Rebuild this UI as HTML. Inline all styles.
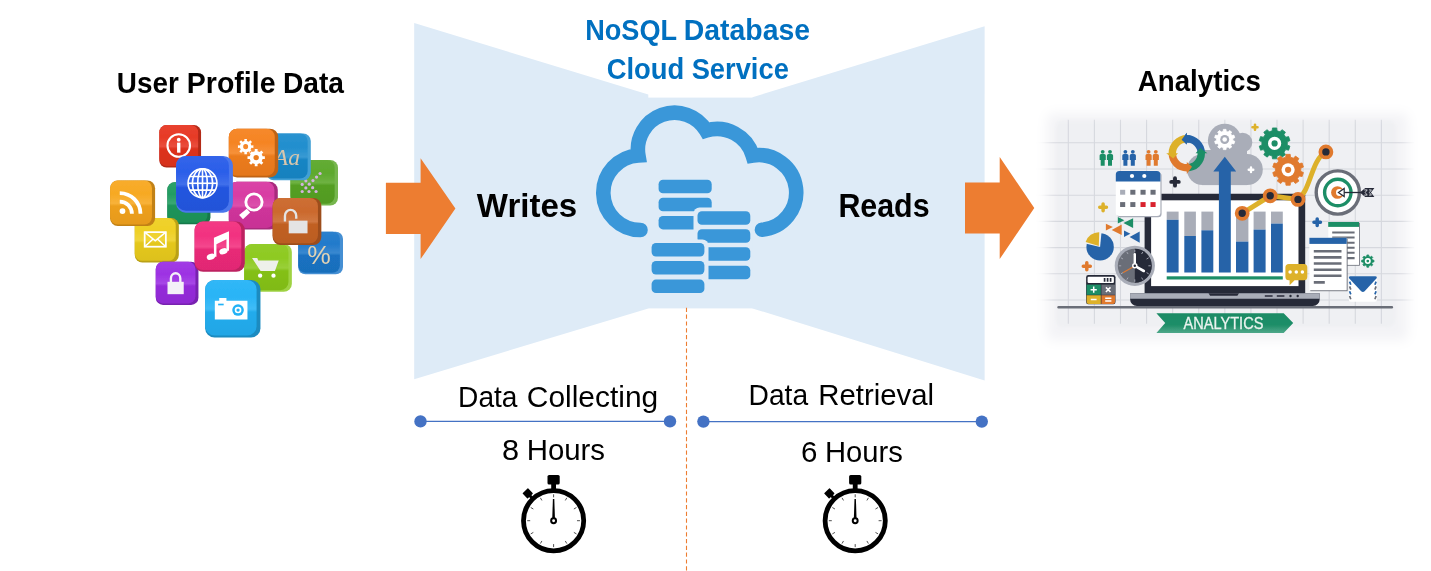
<!DOCTYPE html>
<html lang="en">
<head>
<meta charset="utf-8">
<title>NoSQL Database Cloud Service</title>
<style>
html,body{margin:0;padding:0;background:#fff;}
body{width:1431px;height:571px;overflow:hidden;}
svg{display:block;}
text{font-family:"Liberation Sans",sans-serif;}
</style>
</head>
<body>
<svg width="1431" height="571" viewBox="0 0 1431 571">
<defs><filter id="soft" filterUnits="userSpaceOnUse" x="0" y="0" width="1431" height="571"><feGaussianBlur stdDeviation="0.55"/></filter></defs>
<rect width="1431" height="571" fill="#fff"/>
<!-- base -->
<g id="base">
<g fill="#DEEBF7">
<polygon points="414.2,23 648.3,94.6 648.3,308.4 414.2,379.2"/>
<rect x="648" y="97.6" width="105" height="210.8"/>
<polygon points="984.6,26.2 752.5,97.2 752.5,308.4 984.6,380.4"/>
</g>
<line x1="686.5" y1="307.8" x2="686.5" y2="571" stroke="#ED7D31" stroke-width="1.1" stroke-dasharray="4.2,2.6"/>
<polygon fill="#ED7D31" points="385.9,182.8 420.6,182.8 420.6,158.2 455.4,208.4 420.6,259.1 420.6,233.9 385.9,233.9"/>
<polygon fill="#ED7D31" points="965,182.4 999.7,182.4 999.7,157.1 1034.3,208 999.7,259.1 999.7,233.4 965,233.4"/>
<g stroke="#4472C4" stroke-width="1.4"><line x1="420.5" y1="421.4" x2="670" y2="421.4"/><line x1="703.4" y1="421.6" x2="981.8" y2="421.6"/></g>
<g fill="#4472C4"><circle cx="420.5" cy="421.4" r="6.2"/><circle cx="670" cy="421.4" r="6.2"/><circle cx="703.4" cy="421.6" r="6.2"/><circle cx="981.8" cy="421.6" r="6.2"/></g>
<g font-family="'Liberation Sans', sans-serif" opacity="0.999">
<text y="92.9" font-size="29.0" font-weight="bold" fill="#000" xml:space="preserve"><tspan x="116.84" textLength="61.90" lengthAdjust="spacingAndGlyphs">User</tspan> <tspan x="186.84" textLength="88.70" lengthAdjust="spacingAndGlyphs">Profile</tspan> <tspan x="282.90" textLength="61.10" lengthAdjust="spacingAndGlyphs">Data</tspan></text>
<text y="40.2" font-size="28.8" font-weight="bold" fill="#0070C0" xml:space="preserve"><tspan x="585.22" textLength="91.40" lengthAdjust="spacingAndGlyphs">NoSQL</tspan> <tspan x="683.84" textLength="126.20" lengthAdjust="spacingAndGlyphs">Database</tspan></text>
<text y="79.1" font-size="28.8" font-weight="bold" fill="#0070C0" xml:space="preserve"><tspan x="606.64" textLength="77.58" lengthAdjust="spacingAndGlyphs">Cloud</tspan> <tspan x="691.64" textLength="97.22" lengthAdjust="spacingAndGlyphs">Service</tspan></text>
<text y="216.7" font-size="33.0" font-weight="bold" fill="#000" xml:space="preserve"><tspan x="476.82" textLength="100.34" lengthAdjust="spacingAndGlyphs">Writes</tspan></text>
<text y="216.7" font-size="33.0" font-weight="bold" fill="#000" xml:space="preserve"><tspan x="838.40" textLength="91.20" lengthAdjust="spacingAndGlyphs">Reads</tspan></text>
<text y="91.0" font-size="28.8" font-weight="bold" fill="#000" xml:space="preserve"><tspan x="1137.76" textLength="123.16" lengthAdjust="spacingAndGlyphs">Analytics</tspan></text>
<text y="406.5" font-size="29.2" font-weight="normal" fill="#000" xml:space="preserve"><tspan x="458.10" textLength="59.34" lengthAdjust="spacingAndGlyphs">Data</tspan> <tspan x="526.78" textLength="131.44" lengthAdjust="spacingAndGlyphs">Collecting</tspan></text>
<text y="404.6" font-size="29.2" font-weight="normal" fill="#000" xml:space="preserve"><tspan x="748.54" textLength="59.52" lengthAdjust="spacingAndGlyphs">Data</tspan> <tspan x="818.28" textLength="115.82" lengthAdjust="spacingAndGlyphs">Retrieval</tspan></text>
<text y="459.8" font-size="29.2" font-weight="normal" fill="#000" xml:space="preserve"><tspan x="502.08" textLength="17.08" lengthAdjust="spacingAndGlyphs">8</tspan> <tspan x="526.66" textLength="78.38" lengthAdjust="spacingAndGlyphs">Hours</tspan></text>
<text y="461.8" font-size="29.2" font-weight="normal" fill="#000" xml:space="preserve"><tspan x="801.02" textLength="16.40" lengthAdjust="spacingAndGlyphs">6</tspan> <tspan x="824.98" textLength="77.88" lengthAdjust="spacingAndGlyphs">Hours</tspan></text>
</g>
</g>
<!-- cloud -->
<g id="cloud">
<path d="M640.500,230.000 A37.300,37.300 0 0 1 638.405,155.465 A36.700,36.700 0 0 1 706.130,130.619 A37.300,37.300 0 0 1 752.731,155.596 A37.400,37.400 0 1 1 762.000,229.763" fill="none" stroke="#3A97D9" stroke-width="14.6" stroke-linecap="round" stroke-linejoin="miter" stroke-miterlimit="1.6"/>
<g fill="#3A97D9"><rect x="658.6" y="179.8" width="53.1" height="13.5" rx="4.4" ry="4.4"/><rect x="658.6" y="197.8" width="53.1" height="13.5" rx="4.4" ry="4.4"/><rect x="658.6" y="215.9" width="53.1" height="13.5" rx="4.4" ry="4.4"/></g>
<rect fill="#DEEBF7" x="693.5" y="207.6" width="59.3" height="74.4" rx="6"/>
<g fill="#3A97D9"><rect x="697.5" y="211.3" width="52.8" height="13.5" rx="4.4" ry="4.4"/><rect x="697.5" y="229.3" width="52.8" height="13.5" rx="4.4" ry="4.4"/><rect x="697.5" y="247.2" width="52.8" height="13.5" rx="4.4" ry="4.4"/><rect x="697.5" y="265.8" width="52.8" height="13.5" rx="4.4" ry="4.4"/></g>
<rect fill="#DEEBF7" x="648.2" y="239.4" width="60.3" height="57.2" rx="6"/>
<g fill="#3A97D9"><rect x="651.6" y="243.0" width="52.8" height="13.5" rx="4.4" ry="4.4"/><rect x="651.6" y="261.0" width="52.8" height="13.5" rx="4.4" ry="4.4"/><rect x="651.6" y="279.6" width="52.8" height="13.5" rx="4.4" ry="4.4"/></g>
</g>
<!-- watch -->
<g id="watch">
<g transform="translate(553.6,520.7)">
<g transform="rotate(-43.5)"><rect x="-1.5" y="-35" width="3" height="5" fill="#000"/><rect x="-3.8" y="-41.3" width="7.6" height="7.4" rx="0.6" fill="#000"/></g>
<rect x="-6.1" y="-45.8" width="12.2" height="9.6" rx="1.6" fill="#000"/>
<rect x="-2.4" y="-37" width="4.8" height="6" fill="#000"/>
<circle r="30.1" fill="#fff" stroke="#000" stroke-width="4.8"/>
<path d="M0.00,-23.40L0.00,-26.40M11.70,-20.26L13.20,-22.86M20.26,-11.70L22.86,-13.20M23.40,-0.00L26.40,-0.00M20.26,11.70L22.86,13.20M11.70,20.26L13.20,22.86M0.00,23.40L0.00,26.40M-11.70,20.26L-13.20,22.86M-20.26,11.70L-22.86,13.20M-23.40,0.00L-26.40,0.00M-20.26,-11.70L-22.86,-13.20M-11.70,-20.26L-13.20,-22.86" stroke="#333" stroke-width="0.85" fill="none"/>
<polygon points="-0.7,-21.8 0.7,-21.8 1.35,-2 -1.35,-2" fill="#000"/>
<circle r="2.45" fill="#fff" stroke="#000" stroke-width="2.0"/>
</g>
<g transform="translate(855.2,520.7)">
<g transform="rotate(-43.5)"><rect x="-1.5" y="-35" width="3" height="5" fill="#000"/><rect x="-3.8" y="-41.3" width="7.6" height="7.4" rx="0.6" fill="#000"/></g>
<rect x="-6.1" y="-45.8" width="12.2" height="9.6" rx="1.6" fill="#000"/>
<rect x="-2.4" y="-37" width="4.8" height="6" fill="#000"/>
<circle r="30.1" fill="#fff" stroke="#000" stroke-width="4.8"/>
<path d="M0.00,-23.40L0.00,-26.40M11.70,-20.26L13.20,-22.86M20.26,-11.70L22.86,-13.20M23.40,-0.00L26.40,-0.00M20.26,11.70L22.86,13.20M11.70,20.26L13.20,22.86M0.00,23.40L0.00,26.40M-11.70,20.26L-13.20,22.86M-20.26,11.70L-22.86,13.20M-23.40,0.00L-26.40,0.00M-20.26,-11.70L-22.86,-13.20M-11.70,-20.26L-13.20,-22.86" stroke="#333" stroke-width="0.85" fill="none"/>
<polygon points="-0.7,-21.8 0.7,-21.8 1.35,-2 -1.35,-2" fill="#000"/>
<circle r="2.45" fill="#fff" stroke="#000" stroke-width="2.0"/>
</g>
</g>
<!-- tiles -->
<g id="tiles" filter="url(#soft)">
<defs><linearGradient id="tg0" x1="0" y1="0" x2="0" y2="1"><stop offset="0" stop-color="#2CA169"/><stop offset="0.30" stop-color="#239D63"/><stop offset="0.52" stop-color="#3AA773"/><stop offset="0.58" stop-color="#1B945A"/><stop offset="1" stop-color="#1A8F57"/></linearGradient><linearGradient id="tg1" x1="0" y1="0" x2="0" y2="1"><stop offset="0" stop-color="#E8422F"/><stop offset="0.30" stop-color="#E73A26"/><stop offset="0.52" stop-color="#E94E3C"/><stop offset="0.58" stop-color="#DD321E"/><stop offset="1" stop-color="#D6301D"/></linearGradient><linearGradient id="tg2" x1="0" y1="0" x2="0" y2="1"><stop offset="0" stop-color="#64AC35"/><stop offset="0.30" stop-color="#5DA92D"/><stop offset="0.52" stop-color="#6EB242"/><stop offset="0.58" stop-color="#549F24"/><stop offset="1" stop-color="#529A23"/></linearGradient><linearGradient id="tg3" x1="0" y1="0" x2="0" y2="1"><stop offset="0" stop-color="#2A93D0"/><stop offset="0.30" stop-color="#218ECE"/><stop offset="0.52" stop-color="#389AD3"/><stop offset="0.58" stop-color="#1985C4"/><stop offset="1" stop-color="#1881BE"/></linearGradient><linearGradient id="tg4" x1="0" y1="0" x2="0" y2="1"><stop offset="0" stop-color="#F6892C"/><stop offset="0.30" stop-color="#F58423"/><stop offset="0.52" stop-color="#F6913A"/><stop offset="0.58" stop-color="#EB7B1B"/><stop offset="1" stop-color="#E4771A"/></linearGradient><linearGradient id="tg5" x1="0" y1="0" x2="0" y2="1"><stop offset="0" stop-color="#EFD22E"/><stop offset="0.30" stop-color="#EFD025"/><stop offset="0.52" stop-color="#F0D53B"/><stop offset="0.58" stop-color="#E4C71D"/><stop offset="1" stop-color="#DDC11C"/></linearGradient><linearGradient id="tg6" x1="0" y1="0" x2="0" y2="1"><stop offset="0" stop-color="#F8AC2C"/><stop offset="0.30" stop-color="#F7A923"/><stop offset="0.52" stop-color="#F8B23A"/><stop offset="0.58" stop-color="#ED9F1B"/><stop offset="1" stop-color="#E69A1A"/></linearGradient><linearGradient id="tg7" x1="0" y1="0" x2="0" y2="1"><stop offset="0" stop-color="#DA44A7"/><stop offset="0.30" stop-color="#D83CA3"/><stop offset="0.52" stop-color="#DC50AC"/><stop offset="0.58" stop-color="#CE349A"/><stop offset="1" stop-color="#C83295"/></linearGradient><linearGradient id="tg8" x1="0" y1="0" x2="0" y2="1"><stop offset="0" stop-color="#2B80CD"/><stop offset="0.30" stop-color="#227ACB"/><stop offset="0.52" stop-color="#3988D0"/><stop offset="0.58" stop-color="#1A71C1"/><stop offset="1" stop-color="#196EBB"/></linearGradient><linearGradient id="tg9" x1="0" y1="0" x2="0" y2="1"><stop offset="0" stop-color="#92CC2A"/><stop offset="0.30" stop-color="#8ECA21"/><stop offset="0.52" stop-color="#99CF38"/><stop offset="0.58" stop-color="#84C019"/><stop offset="1" stop-color="#80BA18"/></linearGradient><linearGradient id="tg10" x1="0" y1="0" x2="0" y2="1"><stop offset="0" stop-color="#CD6F35"/><stop offset="0.30" stop-color="#CB692D"/><stop offset="0.52" stop-color="#D07842"/><stop offset="0.58" stop-color="#C16024"/><stop offset="1" stop-color="#BB5D23"/></linearGradient><linearGradient id="tg11" x1="0" y1="0" x2="0" y2="1"><stop offset="0" stop-color="#3365EA"/><stop offset="0.30" stop-color="#2B5EE9"/><stop offset="0.52" stop-color="#406FEB"/><stop offset="0.58" stop-color="#2355DF"/><stop offset="1" stop-color="#2153D8"/></linearGradient><linearGradient id="tg12" x1="0" y1="0" x2="0" y2="1"><stop offset="0" stop-color="#A13BE4"/><stop offset="0.30" stop-color="#9D32E3"/><stop offset="0.52" stop-color="#A747E6"/><stop offset="0.58" stop-color="#942AD9"/><stop offset="1" stop-color="#8F29D2"/></linearGradient><linearGradient id="tg13" x1="0" y1="0" x2="0" y2="1"><stop offset="0" stop-color="#F33A85"/><stop offset="0.30" stop-color="#F23180"/><stop offset="0.52" stop-color="#F4478D"/><stop offset="0.58" stop-color="#E82977"/><stop offset="1" stop-color="#E12873"/></linearGradient><linearGradient id="tg14" x1="0" y1="0" x2="0" y2="1"><stop offset="0" stop-color="#31B7F7"/><stop offset="0.30" stop-color="#29B4F6"/><stop offset="0.52" stop-color="#3FBCF7"/><stop offset="0.58" stop-color="#21ABEC"/><stop offset="1" stop-color="#20A6E5"/></linearGradient></defs>
<g transform="translate(188.9,203.3)"><rect x="-21.55" y="-21.00" width="43.10" height="42.00" rx="7.14" fill="#167849"/><rect x="-21.55" y="-21.00" width="40.08" height="40.49" rx="7.14" fill="url(#tg0)"/></g>
<g transform="translate(180.2,146.3)"><rect x="-20.85" y="-21.25" width="41.70" height="42.50" rx="7.09" fill="#B32918"/><rect x="-20.85" y="-21.25" width="38.78" height="41.04" rx="7.09" fill="url(#tg1)"/><g transform="translate(-1.46,-0.73)"><circle r="11.26" fill="none" stroke="#FFFFFF" stroke-width="2.08"/><circle cy="-5.84" r="1.88" fill="#FFFFFF"/><rect x="-1.67" y="-2.92" width="3.34" height="10.01" fill="#FFFFFF"/></g></g>
<g transform="translate(314.2,182.7)"><rect x="-23.80" y="-22.70" width="47.60" height="45.40" rx="7.72" fill="#76B64D"/><rect x="-23.80" y="-22.70" width="44.27" height="43.73" rx="7.72" fill="url(#tg2)"/><g transform="translate(-1.67,-0.83)"><circle cx="7.54" cy="-8.35" r="1.59" fill="#D3B4DC"/><circle cx="4.00" cy="-4.81" r="1.59" fill="#D3B4DC"/><circle cx="0.41" cy="-1.27" r="1.59" fill="#D3B4DC"/><circle cx="-6.67" cy="-1.00" r="1.59" fill="#D3B4DC"/><circle cx="-3.27" cy="2.27" r="1.59" fill="#D3B4DC"/><circle cx="-10.35" cy="2.54" r="1.59" fill="#D3B4DC"/><circle cx="-6.67" cy="6.08" r="1.59" fill="#D3B4DC"/><circle cx="0.14" cy="5.81" r="1.59" fill="#D3B4DC"/><circle cx="-10.35" cy="9.65" r="1.59" fill="#D3B4DC"/><circle cx="-3.54" cy="9.65" r="1.59" fill="#D3B4DC"/><circle cx="3.54" cy="9.65" r="1.59" fill="#D3B4DC"/></g></g>
<g transform="translate(288.5,156.8)"><rect x="-22.30" y="-23.35" width="44.60" height="46.70" rx="7.58" fill="#43A0D5"/><rect x="-22.30" y="-23.35" width="41.48" height="45.14" rx="7.58" fill="url(#tg3)"/><g transform="translate(-1.56,-0.78)"><text x="0" y="8.47" text-anchor="middle" font-size="23.64" font-style="italic" style="font-family:'Liberation Serif', serif" fill="#D8C6AC">Aa</text></g></g>
<g transform="translate(253.5,153.1)"><rect x="-24.70" y="-24.45" width="49.40" height="48.90" rx="8.31" fill="#BF6416"/><rect x="-24.70" y="-24.45" width="45.94" height="47.17" rx="8.31" fill="url(#tg4)"/><g transform="translate(-1.73,-0.86)"><path d="M-0.38,-6.86L1.61,-6.91L1.61,-4.34L-0.38,-4.39L-1.18,-2.44L0.25,-1.07L-1.56,0.74L-2.93,-0.69L-4.88,0.11L-4.83,2.09L-7.40,2.09L-7.35,0.11L-9.30,-0.69L-10.66,0.74L-12.48,-1.07L-11.04,-2.44L-11.85,-4.39L-13.83,-4.34L-13.83,-6.91L-11.85,-6.86L-11.04,-8.81L-12.48,-10.17L-10.66,-11.99L-9.30,-10.55L-7.35,-11.36L-7.40,-13.34L-4.83,-13.34L-4.88,-11.36L-2.93,-10.55L-1.56,-11.99L0.25,-10.17L-1.18,-8.81ZM-8.56,-5.62a2.45,2.45 0 1 0 4.89,0a2.45,2.45 0 1 0 -4.89,0ZM10.85,3.99L13.08,3.93L13.08,6.82L10.85,6.77L9.95,8.96L11.56,10.50L9.52,12.54L7.98,10.92L5.79,11.83L5.85,14.06L2.96,14.06L3.01,11.83L0.82,10.92L-0.72,12.54L-2.76,10.50L-1.14,8.96L-2.05,6.77L-4.28,6.82L-4.28,3.93L-2.05,3.99L-1.14,1.80L-2.76,0.26L-0.72,-1.78L0.82,-0.17L3.01,-1.07L2.96,-3.30L5.85,-3.30L5.79,-1.07L7.98,-0.17L9.52,-1.78L11.56,0.26L9.95,1.80ZM1.71,5.38a2.69,2.69 0 1 0 5.38,0a2.69,2.69 0 1 0 -5.38,0Z" fill="#FFFFFF" fill-rule="evenodd"/></g></g>
<g transform="translate(156.8,240.2)"><rect x="-22.05" y="-22.20" width="44.10" height="44.40" rx="7.50" fill="#BAA117"/><rect x="-22.05" y="-22.20" width="41.01" height="42.86" rx="7.50" fill="url(#tg5)"/><g transform="translate(-1.54,-0.77)"><rect x="-10.58" y="-7.28" width="21.17" height="14.55" fill="none" stroke="#FFFFFF" stroke-width="1.76"/><path d="M-10.58,-7.28L0,1.32L10.58,-7.28M-10.58,7.28L-2.21,-0.44M10.58,7.28L2.21,-0.44" fill="none" stroke="#FFFFFF" stroke-width="1.54"/></g></g>
<g transform="translate(132.6,203.3)"><rect x="-22.50" y="-22.70" width="45.00" height="45.40" rx="7.65" fill="#C18116"/><rect x="-22.50" y="-22.70" width="41.85" height="43.83" rx="7.65" fill="url(#tg6)"/><g transform="translate(-1.58,-0.79)"><circle cx="-8.55" cy="8.55" r="2.93" fill="#FFFFFF"/><path d="M-11.25,-0.90A12.15,12.15 0 0 1 0.90,11.25" fill="none" stroke="#FFFFFF" stroke-width="3.83"/><path d="M-11.25,-9.45A20.70,20.70 0 0 1 9.45,11.25" fill="none" stroke="#FFFFFF" stroke-width="3.83"/></g></g>
<g transform="translate(253.3,205.7)"><rect x="-24.50" y="-23.90" width="49.00" height="47.80" rx="8.13" fill="#A82A7D"/><rect x="-24.50" y="-23.90" width="45.57" height="46.08" rx="8.13" fill="url(#tg7)"/><g transform="translate(-1.72,-0.86)"><circle cx="2.39" cy="-2.87" r="8.13" fill="none" stroke="#FFFFFF" stroke-width="2.87"/><path d="M-4.78,3.82L-12.43,10.04L-8.60,14.34L-1.43,7.65Z" fill="#FFFFFF"/></g></g>
<g transform="translate(320.6,253.0)"><rect x="-22.40" y="-21.35" width="44.80" height="42.70" rx="7.26" fill="#448FD3"/><rect x="-22.40" y="-21.35" width="41.66" height="41.13" rx="7.26" fill="url(#tg8)"/><g transform="translate(-1.57,-0.78)"><text x="0" y="11.53" text-anchor="middle" font-size="26.47" style="font-family:'Liberation Sans', sans-serif" fill="#E0D2B4">%</text></g></g>
<g transform="translate(268.0,267.9)"><rect x="-23.85" y="-23.95" width="47.70" height="47.90" rx="8.11" fill="#9FD243"/><rect x="-23.85" y="-23.95" width="44.36" height="46.23" rx="8.11" fill="url(#tg9)"/><g transform="translate(-1.67,-0.83)"><path d="M-14.31,-9.06H-9.06L-8.11,-6.68H12.40L8.59,3.82H-5.72Z" fill="#EEF0EA"/><circle cx="-6.20" cy="8.59" r="2.15" fill="#FFFFFF"/><circle cx="7.15" cy="8.59" r="2.15" fill="#FFFFFF"/></g></g>
<g transform="translate(297.0,221.5)"><rect x="-24.35" y="-23.50" width="48.70" height="47.00" rx="7.99" fill="#9D4E1E"/><rect x="-24.35" y="-23.50" width="45.29" height="45.30" rx="7.99" fill="url(#tg10)"/><g transform="translate(-1.70,-0.85)"><path d="M-10.34,0.94V-4.70A5.64,6.11 0 0 1 0.94,-4.70V-1.88" fill="none" stroke="#E4E4E4" stroke-width="2.35"/><rect x="-6.58" y="0.00" width="18.80" height="12.69" fill="#E4E4E4"/></g></g>
<g transform="translate(204.5,184.3)"><rect x="-28.40" y="-28.35" width="56.80" height="56.70" rx="9.64" fill="#4B77EC"/><rect x="-28.40" y="-28.35" width="52.82" height="54.71" rx="9.64" fill="url(#tg11)"/><g transform="translate(-1.99,-0.99)"><g fill="none" stroke="#FFFFFF" stroke-width="1.59"><circle r="14.46"/><ellipse rx="4.77" ry="14.46"/><ellipse rx="10.12" ry="14.46"/><path d="M0,-14.46V14.46M-14.46,0H14.46M-12.72,-6.80H12.72M-12.72,6.80H12.72"/></g></g></g>
<g transform="translate(177.1,283.4)"><rect x="-21.35" y="-21.55" width="42.70" height="43.10" rx="7.26" fill="#7822B0"/><rect x="-21.35" y="-21.55" width="39.71" height="41.61" rx="7.26" fill="url(#tg12)"/><g transform="translate(-1.49,-0.75)"><path d="M-4.70,0.00V-4.27A4.70,5.12 0 0 1 4.70,-4.27V0.00" fill="none" stroke="#F4F0F8" stroke-width="2.35"/><rect x="-8.11" y="-0.85" width="16.23" height="12.38" fill="#F4F0F8"/></g></g>
<g transform="translate(219.7,246.6)"><rect x="-25.10" y="-25.15" width="50.20" height="50.30" rx="8.53" fill="#BD2261"/><rect x="-25.10" y="-25.15" width="46.69" height="48.54" rx="8.53" fill="url(#tg13)"/><g transform="translate(-1.76,-0.88)"><path d="M-4.02,-8.03L11.04,-14.56V5.02h-2.51V-6.53L-1.51,-1.51V11.04h-2.51Z" fill="#FFFFFF"/><ellipse cx="-7.03" cy="11.04" rx="4.27" ry="3.01" fill="#FFFFFF" transform="rotate(-20 -7.03 11.04)"/><ellipse cx="5.52" cy="5.52" rx="4.27" ry="3.01" fill="#FFFFFF" transform="rotate(-20 5.52 5.52)"/></g></g>
<g transform="translate(232.8,308.8)"><rect x="-27.65" y="-28.75" width="55.30" height="57.50" rx="9.40" fill="#1B8BC0"/><rect x="-27.65" y="-28.75" width="51.43" height="55.56" rx="9.40" fill="url(#tg14)"/><g transform="translate(-1.94,-0.97)"><path d="M-16.04,-7.19h4.42v-2.76h7.19v2.76H16.59V11.61H-16.04Z" fill="#FFFFFF"/><circle cx="7.19" cy="2.21" r="5.81" fill="#22B2F6"/><circle cx="7.19" cy="2.21" r="3.32" fill="#FFFFFF"/><circle cx="7.19" cy="2.21" r="1.66" fill="#22B2F6"/><rect x="-12.72" y="-4.15" width="5.53" height="1.66" fill="#22B2F6"/></g></g>
</g>
<!-- analytics -->
<g id="analytics" filter="url(#soft)">
<defs><filter id="anblur" filterUnits="userSpaceOnUse" x="1000" y="70" width="431" height="310"><feGaussianBlur stdDeviation="6"/></filter><filter id="anblur2" filterUnits="userSpaceOnUse" x="1000" y="70" width="431" height="310"><feGaussianBlur stdDeviation="1.8"/></filter><mask id="anmask" maskUnits="userSpaceOnUse" x="1020" y="90" width="411" height="270"><rect x="1047" y="113.5" width="361" height="227" rx="6" fill="#fff" filter="url(#anblur)"/></mask></defs>
<g mask="url(#anmask)">
<rect x="1020" y="90" width="411" height="270" fill="#F3F3F6"/>
<rect x="1055.5" y="119.5" width="340" height="207.5" rx="8" fill="#EFF0F3" filter="url(#anblur2)"/>
<path d="M1068.30,119.8V323.8M1094.39,119.8V323.8M1120.48,119.8V323.8M1146.57,119.8V323.8M1172.66,119.8V323.8M1198.75,119.8V323.8M1224.84,119.8V323.8M1250.93,119.8V323.8M1277.02,119.8V323.8M1303.11,119.8V323.8M1329.20,119.8V323.8M1355.29,119.8V323.8M1381.38,119.8V323.8M1036,142.80H1414M1036,169.00H1414M1036,195.20H1414M1036,221.40H1414M1036,247.60H1414M1036,273.80H1414M1036,300.00H1414" stroke="#D6D8DE" stroke-width="1.1" fill="none"/>
</g>
<circle cx="1102.70" cy="151.80" r="1.9" fill="#1E8E66"/><path d="M1099.60,155.50q0,-1.6 1.6,-1.6h3q1.6,0 1.6,1.6v4.6h-1.1v5.7h-4v-5.7h-1.1z" fill="#1E8E66"/>
<circle cx="1110.00" cy="151.80" r="1.9" fill="#1E8E66"/><path d="M1106.90,155.50q0,-1.6 1.6,-1.6h3q1.6,0 1.6,1.6v4.6h-1.1v5.7h-4v-5.7h-1.1z" fill="#1E8E66"/>
<circle cx="1125.40" cy="151.80" r="1.9" fill="#2563A8"/><path d="M1122.30,155.50q0,-1.6 1.6,-1.6h3q1.6,0 1.6,1.6v4.6h-1.1v5.7h-4v-5.7h-1.1z" fill="#2563A8"/>
<circle cx="1132.80" cy="151.80" r="1.9" fill="#2563A8"/><path d="M1129.70,155.50q0,-1.6 1.6,-1.6h3q1.6,0 1.6,1.6v4.6h-1.1v5.7h-4v-5.7h-1.1z" fill="#2563A8"/>
<circle cx="1148.60" cy="151.80" r="1.9" fill="#E07A2F"/><path d="M1145.50,155.50q0,-1.6 1.6,-1.6h3q1.6,0 1.6,1.6v4.6h-1.1v5.7h-4v-5.7h-1.1z" fill="#E07A2F"/>
<circle cx="1155.80" cy="151.80" r="1.9" fill="#E07A2F"/><path d="M1152.70,155.50q0,-1.6 1.6,-1.6h3q1.6,0 1.6,1.6v4.6h-1.1v5.7h-4v-5.7h-1.1z" fill="#E07A2F"/>
<path d="M1171.25,181.90H1178.75M1175.00,178.15V185.65" stroke="#272A38" stroke-width="3.9" stroke-linecap="round" fill="none"/>
<path d="M1099.75,207.30H1106.45M1103.10,203.95V210.65" stroke="#DDB12B" stroke-width="3.5" stroke-linecap="round" fill="none"/>
<path d="M1083.30,266.20H1090.30M1086.80,262.70V269.70" stroke="#E07A2F" stroke-width="3.5" stroke-linecap="round" fill="none"/>
<path d="M1313.95,222.30H1320.45M1317.20,219.05V225.55" stroke="#2563A8" stroke-width="3.5" stroke-linecap="round" fill="none"/>
<path d="M1252.50,127.30H1257.50M1255.00,124.80V129.80" stroke="#DDB12B" stroke-width="2.6" stroke-linecap="round" fill="none"/>
<g fill="#A9ADB8"><circle cx="1224.7" cy="140.6" r="16.8"/><circle cx="1242.5" cy="142.5" r="9.8"/><circle cx="1202.6" cy="169.5" r="15.6"/><circle cx="1247.2" cy="169.5" r="15.6"/><rect x="1202" y="150" width="45" height="35.1"/></g>
<path d="M1223.19,131.44L1223.36,129.39L1226.04,129.39L1226.21,131.44L1228.22,132.09L1229.56,130.53L1231.73,132.11L1230.66,133.86L1231.90,135.58L1233.90,135.10L1234.73,137.65L1232.83,138.44L1232.83,140.56L1234.73,141.35L1233.90,143.90L1231.90,143.42L1230.66,145.14L1231.73,146.89L1229.56,148.47L1228.22,146.91L1226.21,147.56L1226.04,149.61L1223.36,149.61L1223.19,147.56L1221.18,146.91L1219.84,148.47L1217.67,146.89L1218.74,145.14L1217.50,143.42L1215.50,143.90L1214.67,141.35L1216.57,140.56L1216.57,138.44L1214.67,137.65L1215.50,135.10L1217.50,135.58L1218.74,133.86L1217.67,132.11L1219.84,130.53L1221.18,132.09Z" fill="#FFFFFF" stroke="#FFFFFF" stroke-width="0.8" stroke-linejoin="round"/>
<circle cx="1224.7" cy="139.5" r="4.5" fill="#A9ADB8"/><circle cx="1224.7" cy="139.5" r="2.3" fill="#fff"/>
<path d="M1248.70,169.80H1253.30M1251.00,167.50V172.10" stroke="#FFFFFF" stroke-width="2.4" stroke-linecap="round" fill="none"/>
<path d="M1205.00,153.30A18.2,18.2 0 0 0 1186.80,135.10L1186.80,132.70L1181.60,139.76L1186.80,144.50L1186.80,142.50A10.8,10.8 0 0 1 1197.60,153.30Z" fill="#2563A8"/>
<path d="M1186.80,171.50A18.2,18.2 0 0 0 1205.00,153.30L1207.40,153.30L1200.34,148.10L1195.60,153.30L1197.60,153.30A10.8,10.8 0 0 1 1186.80,164.10Z" fill="#1E8E66"/>
<path d="M1168.60,153.30A18.2,18.2 0 0 0 1186.80,171.50L1186.80,173.90L1192.00,166.84L1186.80,162.10L1186.80,164.10A10.8,10.8 0 0 1 1176.00,153.30Z" fill="#E07A2F"/>
<path d="M1186.80,135.10A18.2,18.2 0 0 0 1168.60,153.30L1166.20,153.30L1173.26,158.50L1178.00,153.30L1176.00,153.30A10.8,10.8 0 0 1 1186.80,142.50Z" fill="#DDB12B"/>
<path d="M1189.96,135.38A18.2,18.2 0 0 0 1186.80,135.10L1186.80,132.70L1181.60,139.76L1186.80,144.50L1186.80,142.50A10.8,10.8 0 0 1 1188.68,142.66Z" fill="#2563A8"/>
<path d="M1272.17,130.83L1272.47,127.95L1276.73,127.95L1277.03,130.83L1280.02,131.80L1281.96,129.65L1285.40,132.15L1283.96,134.66L1285.80,137.20L1288.64,136.60L1289.95,140.65L1287.30,141.83L1287.30,144.97L1289.95,146.15L1288.64,150.20L1285.80,149.60L1283.96,152.14L1285.40,154.65L1281.96,157.15L1280.02,155.00L1277.03,155.97L1276.73,158.85L1272.47,158.85L1272.17,155.97L1269.18,155.00L1267.24,157.15L1263.80,154.65L1265.24,152.14L1263.40,149.60L1260.56,150.20L1259.25,146.15L1261.90,144.97L1261.90,141.83L1259.25,140.65L1260.56,136.60L1263.40,137.20L1265.24,134.66L1263.80,132.15L1267.24,129.65L1269.18,131.80Z" fill="#1E8E66" stroke="#1E8E66" stroke-width="0.8" stroke-linejoin="round"/>
<circle cx="1274.6" cy="143.4" r="6.6" fill="#fff"/><circle cx="1274.6" cy="143.4" r="3.1" fill="#1E8E66"/>
<path d="M1285.67,157.23L1285.97,154.35L1290.23,154.35L1290.53,157.23L1293.52,158.20L1295.46,156.05L1298.90,158.55L1297.46,161.06L1299.30,163.60L1302.14,163.00L1303.45,167.05L1300.80,168.23L1300.80,171.37L1303.45,172.55L1302.14,176.60L1299.30,176.00L1297.46,178.54L1298.90,181.05L1295.46,183.55L1293.52,181.40L1290.53,182.37L1290.23,185.25L1285.97,185.25L1285.67,182.37L1282.68,181.40L1280.74,183.55L1277.30,181.05L1278.74,178.54L1276.90,176.00L1274.06,176.60L1272.75,172.55L1275.40,171.37L1275.40,168.23L1272.75,167.05L1274.06,163.00L1276.90,163.60L1278.74,161.06L1277.30,158.55L1280.74,156.05L1282.68,158.20Z" fill="#E07A2F" stroke="#E07A2F" stroke-width="0.8" stroke-linejoin="round"/>
<circle cx="1288.1" cy="169.8" r="6.6" fill="#fff"/><circle cx="1288.1" cy="169.8" r="3.1" fill="#E07A2F"/>
<path d="M1366.82,256.40L1366.89,254.97L1368.71,254.97L1368.78,256.40L1370.43,257.08L1371.49,256.12L1372.78,257.41L1371.82,258.47L1372.50,260.12L1373.93,260.19L1373.93,262.01L1372.50,262.08L1371.82,263.73L1372.78,264.79L1371.49,266.08L1370.43,265.12L1368.78,265.80L1368.71,267.23L1366.89,267.23L1366.82,265.80L1365.17,265.12L1364.11,266.08L1362.82,264.79L1363.78,263.73L1363.10,262.08L1361.67,262.01L1361.67,260.19L1363.10,260.12L1363.78,258.47L1362.82,257.41L1364.11,256.12L1365.17,257.08Z" fill="#1E8E66" stroke="#1E8E66" stroke-width="0.8" stroke-linejoin="round"/>
<circle cx="1367.8" cy="261.1" r="3.0" fill="#fff"/><circle cx="1367.8" cy="261.1" r="1.4" fill="#1E8E66"/>
<rect x="1144.6" y="193.8" width="160.6" height="100" rx="1.5" fill="#272A38"/>
<rect x="1151.1" y="200.3" width="147.4" height="85.8" fill="#fff"/>
<rect x="1166.7" y="211.6" width="11.9" height="8.2" fill="#A9ADB8"/>
<rect x="1166.7" y="219.8" width="11.9" height="52.7" fill="#2563A8"/>
<rect x="1184.3" y="211.6" width="11.6" height="24.4" fill="#A9ADB8"/>
<rect x="1184.3" y="236.0" width="11.6" height="36.5" fill="#2563A8"/>
<rect x="1201.4" y="211.6" width="11.9" height="18.7" fill="#A9ADB8"/>
<rect x="1201.4" y="230.3" width="11.9" height="42.2" fill="#2563A8"/>
<rect x="1236.0" y="211.6" width="12.4" height="30.0" fill="#A9ADB8"/>
<rect x="1236.0" y="241.6" width="12.4" height="30.9" fill="#2563A8"/>
<rect x="1253.6" y="211.6" width="12.0" height="18.0" fill="#A9ADB8"/>
<rect x="1253.6" y="229.6" width="12.0" height="42.9" fill="#2563A8"/>
<rect x="1271.0" y="211.6" width="11.8" height="12.0" fill="#A9ADB8"/>
<rect x="1271.0" y="223.6" width="11.8" height="48.9" fill="#2563A8"/>
<rect x="1166.7" y="276.3" width="116.1" height="3.2" fill="#1E8E66"/>
<path d="M1224.8,156.7L1236.2,171.4H1230.8V272.5H1218.9V171.4H1213.3Z" fill="#2563A8"/>
<path d="M1130.1,293.3H1319.7V299.3a6.8,6.8 0 0 1 -6.8,6.8H1136.9a6.8,6.8 0 0 1 -6.8,-6.8Z" fill="#272A38"/>
<path d="M1130.1,293.3H1319.7V298.7H1130.1Z" fill="#A9ADB8"/>
<path d="M1208.5,293.3h30.5l-1.6,2.4h-27.3z" fill="#272A38"/>
<path d="M1264.8,296h7.8M1276.8,296h7.6" stroke="#272A38" stroke-width="1.3" fill="none"/><circle cx="1290.5" cy="296" r="1.2" fill="#272A38"/><circle cx="1297.7" cy="296" r="1.2" fill="#272A38"/>
<rect x="1057.3" y="305.9" width="335.8" height="2.6" rx="1.2" fill="#6B6E78"/>
<rect x="1117" y="172.3" width="44.6" height="45" rx="3.5" fill="#A9ADB8"/>
<rect x="1115.8" y="170.9" width="44.6" height="45.2" rx="3.5" fill="#fff"/>
<path d="M1115.8,181.4v-7a3.5,3.5 0 0 1 3.5,-3.5h37.6a3.5,3.5 0 0 1 3.5,3.5v7z" fill="#2563A8"/>
<circle cx="1132" cy="176" r="2.1" fill="#fff"/><circle cx="1144.3" cy="176" r="2.1" fill="#fff"/>
<rect x="1120.1" y="189.8" width="5.1" height="4.9" fill="#A9ADB8"/>
<rect x="1130.3" y="189.8" width="5.1" height="4.9" fill="#6B6E78"/>
<rect x="1140.5" y="189.8" width="5.1" height="4.9" fill="#6B6E78"/>
<rect x="1150.5" y="189.8" width="5.1" height="4.9" fill="#6B6E78"/>
<rect x="1120.1" y="202.1" width="5.1" height="4.9" fill="#6B6E78"/>
<rect x="1130.3" y="202.1" width="5.1" height="4.9" fill="#6B6E78"/>
<rect x="1140.5" y="202.1" width="5.1" height="4.9" fill="#D9232E"/>
<rect x="1150.5" y="202.1" width="5.1" height="4.9" fill="#D9232E"/>
<path d="M1242.2,213.3L1270.2,195.8L1298.0,199.4C1311,190 1311,160 1325.9,151.9" fill="none" stroke="#DDB12B" stroke-width="4.9" stroke-linejoin="round" stroke-linecap="round"/>
<circle cx="1242.2" cy="213.3" r="5.55" fill="#272A38" stroke="#E07A2F" stroke-width="3.7"/>
<circle cx="1270.2" cy="195.8" r="5.55" fill="#272A38" stroke="#E07A2F" stroke-width="3.7"/>
<circle cx="1298.0" cy="199.4" r="5.55" fill="#272A38" stroke="#E07A2F" stroke-width="3.7"/>
<circle cx="1325.9" cy="151.9" r="5.55" fill="#272A38" stroke="#E07A2F" stroke-width="3.7"/>
<circle cx="1337.8" cy="192.5" r="21.6" fill="#fff" stroke="#6B6E78" stroke-width="3.4"/>
<circle cx="1337.8" cy="192.5" r="13.2" fill="none" stroke="#1E8E66" stroke-width="3.4"/>
<circle cx="1337.3999999999999" cy="192.5" r="6.3" fill="#E07A2F"/>
<circle cx="1339.3999999999999" cy="192.5" r="3.4" fill="#fff"/>
<path d="M1343.8,192.5H1367.8" stroke="#272A38" stroke-width="1.3" fill="none"/>
<path d="M1338.3999999999999,192.5L1344.2,188.4V196.6Z" fill="#fff" stroke="#272A38" stroke-width="1.2" stroke-linejoin="miter"/>
<path d="M1360.0,192.5l5.2,-4.6h9.2l-3.4,4.6l3.4,4.6h-9.2z" fill="#272A38"/>
<path d="M1364.2,189.9l3,0l-2,2.6l2,2.6l-3,0M1369.0,189.9l2.4,0l-2,2.6l2,2.6l-2.4,0" fill="none" stroke="#E9EAEE" stroke-width="0.8"/>
<rect x="1329" y="222.8" width="30.8" height="42.9" fill="#6B6E78"/>
<rect x="1328.2" y="222" width="30.8" height="42.9" fill="#fff"/>
<rect x="1328.2" y="222" width="30.8" height="4.9" fill="#1E8E66"/>
<path d="M1332.2,232.5H1354.6M1332.2,237.5H1354.6M1332.2,242.7H1354.6M1332.2,247.8H1354.6M1332.2,252.8H1354.6M1332.2,258.1H1354.6" stroke="#6B6E78" stroke-width="2.1" fill="none"/>
<rect x="1310.3" y="238.7" width="37.3" height="52.5" fill="#6B6E78"/>
<rect x="1309.4" y="237.8" width="37.3" height="52.5" fill="#fff"/>
<rect x="1309.4" y="237.8" width="37.3" height="6.1" fill="#2563A8"/>
<path d="M1313.8,251.3H1341.5M1313.8,257.4H1341.5M1313.8,263.5H1341.5M1313.8,269.7H1341.5M1313.8,275.8H1341.5M1313.8,282.4H1324.8" stroke="#6B6E78" stroke-width="2.6" fill="none"/>
<rect x="1348.8" y="276.2" width="28.1" height="25.6" rx="2" fill="#fff"/>
<path d="M1349.6,281.6l1.2,3.2M1376.1,281.6l-1.2,3.2M1349.6,291.2l1.2,3.2M1376.1,291.2l-1.2,3.2" stroke="#2563A8" stroke-width="1.7" fill="none"/><path d="M1349.6,286.4l1.2,3.2M1376.1,286.4l-1.2,3.2M1349.6,296.0l1.2,3.2M1376.1,296.0l-1.2,3.2" stroke="#6B6E78" stroke-width="1.7" fill="none"/>
<path d="M1350.3,276.2H1375.4q2.2,0.3 1,2.4L1364.6,291.3q-1.7,1.6 -3.4,0L1349.3,278.6q-1.2,-2.1 1,-2.4Z" fill="#2563A8"/>
<path d="M1288.9,264H1303.8a3.5,3.5 0 0 1 3.5,3.5V276.7a3.5,3.5 0 0 1 -3.5,3.5H1294.6L1289.6,285.2V280.2H1288.9a3.5,3.5 0 0 1 -3.5,-3.5V267.5a3.5,3.5 0 0 1 3.5,-3.5Z" fill="#DDB12B"/>
<circle cx="1290.1" cy="272.1" r="1.75" fill="#fff"/><circle cx="1296.3" cy="272.1" r="1.75" fill="#fff"/><circle cx="1302.4" cy="272.1" r="1.75" fill="#fff"/>
<polygon points="1117.8,217.1 1117.8,223.4 1124.3,220.3" fill="#1E8E66"/><polygon points="1133.1,218.2 1133.1,228.1 1123.4,222.9" fill="#1E8E66"/>
<polygon points="1105.9,223.8 1105.9,230.4 1112.9,226.9" fill="#E07A2F"/><polygon points="1121.7,224.6 1121.7,235.1 1111.7,229.9" fill="#E07A2F"/>
<polygon points="1124,230.4 1124,236.9 1130.4,233.7" fill="#2563A8"/><polygon points="1139.7,231.6 1139.7,242.7 1129.6,236.9" fill="#2563A8"/>
<circle cx="1100.1" cy="246.9" r="13.7" fill="#2563A8"/>
<path d="M1100.10,246.90L1085.26,243.59A15.2,15.2 0 0 1 1101.54,231.77Z" fill="#EFF0F3"/>
<path d="M1098.80,245.90L1085.63,242.12A13.7,13.7 0 0 1 1099.28,232.21Z" fill="#DDB12B"/>
<circle cx="1134.8" cy="265.8" r="20.1" fill="#A9ADB8"/>
<circle cx="1134.8" cy="265.8" r="17" fill="#6B6E78"/>
<path d="M1134.8,248.8A17,17 0 0 1 1134.8,282.8Z" fill="#272A38"/>
<path d="M1134.80,252.20L1134.80,249.80M1141.60,254.02L1142.80,251.94M1146.58,259.00L1148.66,257.80M1148.40,265.80L1150.80,265.80M1146.58,272.60L1148.66,273.80M1141.60,277.58L1142.80,279.66M1134.80,279.40L1134.80,281.80M1128.00,277.58L1126.80,279.66M1123.02,272.60L1120.94,273.80M1121.20,265.80L1118.80,265.80M1123.02,259.00L1120.94,257.80M1128.00,254.02L1126.80,251.94" stroke="#A9ADB8" stroke-width="0.9" fill="none"/>
<path d="M1133.0,267.0L1123.3,272.40000000000003" stroke="#E07A2F" stroke-width="1.1" stroke-linecap="round"/>
<path d="M1134.8,262.8V254.20000000000002" stroke="#fff" stroke-width="2.4" stroke-linecap="round"/>
<path d="M1137.3999999999999,267.40000000000003L1143.8,271.0" stroke="#fff" stroke-width="2.6" stroke-linecap="round"/>
<circle cx="1134.8" cy="265.8" r="2.0" fill="#272A38" stroke="#fff" stroke-width="1.5"/>
<rect x="1086.1" y="275.1" width="29.4" height="29.2" rx="2.2" fill="#272A38"/>
<rect x="1087.6" y="276.8" width="26.3" height="6.1" rx="1" fill="#fff"/>
<path d="M1104.6,278V281.8M1107.6,278V281.8M1110.6,278V281.8" stroke="#272A38" stroke-width="1.7" fill="none"/>
<path d="M1086.6,284.6H1100.8V294.8H1086.6Z" fill="#1E8E66"/>
<path d="M1101.4,284.6H1115.1V294.8H1101.4Z" fill="#6B6E78"/>
<path d="M1086.6,295.3H1100.8V304H1088.6a2,2 0 0 1 -2,-2Z" fill="#DDB12B"/>
<path d="M1101.4,295.3H1115.1V302a2,2 0 0 1 -2,2H1101.4Z" fill="#E07A2F"/>
<path d="M1090.6,289.7h6.2M1093.7,286.6v6.2M1105.9,287.4l4.6,4.6M1110.5,287.4l-4.6,4.6M1090.8,299.6h5.8M1105.2,298.2h6.2M1105.2,301h6.2" stroke="#fff" stroke-width="1.5" fill="none"/>
<defs><linearGradient id="bng" x1="0" y1="0" x2="0" y2="1"><stop offset="0" stop-color="#1C8B65"/><stop offset="0.6" stop-color="#1F8E68"/><stop offset="1" stop-color="#4FA88A"/></linearGradient></defs>
<path d="M1156.4,313.3H1283.7L1293.2,323.1L1283.7,333H1156.4L1165.2,323.1Z" fill="url(#bng)"/>
<text x="1183.6" y="329.1" font-size="15.9" fill="#EAF3EF" stroke="#EAF3EF" stroke-width="0.3" textLength="79.8" lengthAdjust="spacingAndGlyphs">ANALYTICS</text>
</g>
</svg>
</body>
</html>
